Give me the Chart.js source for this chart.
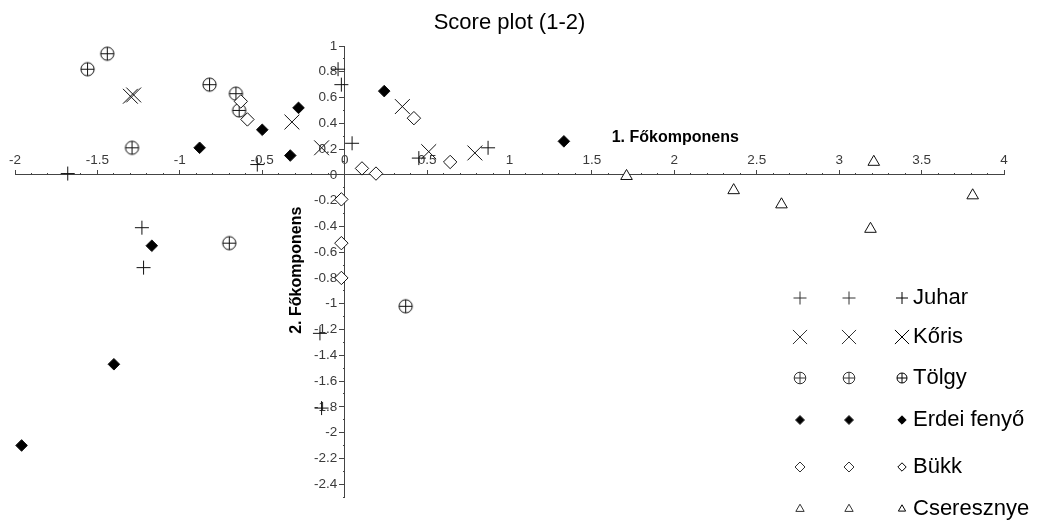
<!DOCTYPE html>
<html lang="hu">
<head>
  <meta charset="UTF-8">
  <title>Score plot (1-2)</title>
  <script src="https://cdn.jsdelivr.net/npm/chart.js"></script>
  <style>
    body { margin: 0; background: #fff; }
    #wrap { width: 1037px; height: 522px; }
  </style>
</head>
<body>
  <div id="wrap"><canvas id="scorePlot" width="1037" height="522"></canvas></div>

  <script>
    // axis ticks
    const xTicks = [-2, -1.5, -1, -0.5, 0, 0.5, 1, 1.5, 2, 2.5, 3, 3.5, 4];
    const yTicks = [-2.4, -2.2, -2, -1.8, -1.6, -1.4, -1.2, -1, -0.8, -0.6, -0.4, -0.2, 0, 0.2, 0.4, 0.6, 0.8, 1];

    const xTitle = '1. Főkomponens';
    const yTitle = '2. Főkomponens';

    // scores [1. component, 2. component]
    const juhar = [[-1.68, 0.01], [-0.53, 0.08], [-0.04, 0.82], [-0.02, 0.70], [0.045, 0.245], [0.45, 0.13],
      [0.87, 0.21], [-1.23, -0.41], [-1.22, -0.72], [-0.15, -1.23], [-0.14, -1.81]];
    const koris = [[-1.30, 0.61], [-1.28, 0.62], [-0.32, 0.41], [-0.14, 0.21], [0.35, 0.53], [0.51, 0.18], [0.79, 0.17]];
    const tolgy = [[-1.56, 0.82], [-1.44, 0.94], [-0.82, 0.70], [-0.66, 0.63], [-0.64, 0.50], [-1.29, 0.21],
      [-0.70, -0.53], [0.37, -1.02]];
    const erdeiFenyo = [[-0.88, 0.21], [-0.50, 0.35], [-0.33, 0.15], [-0.28, 0.52], [0.24, 0.65], [1.33, 0.26],
      [-1.17, -0.55], [-1.40, -1.47], [-1.96, -2.10]];
    const bukk = [[-0.63, 0.57], [-0.59, 0.43], [-0.02, -0.19], [0.42, 0.44], [0.105, 0.05], [0.19, 0.01],
      [0.64, 0.10], [-0.02, -0.53], [-0.02, -0.80]];
    const cseresznye = [[1.71, -0.01], [2.36, -0.12], [2.65, -0.23], [3.21, 0.10], [3.19, -0.42], [3.81, -0.16]];

    const seriesNames = ['Juhar', 'Kőris', 'Tölgy', 'Erdei fenyő', 'Bükk', 'Cseresznye'];

    const FONT = '"Liberation Sans", Arial, sans-serif';
    const axisColor = '#444';
    const ink = '#111';

    // circle with a plus inside, Chart.js has no such point style
    function circlePlus(r) {
      const s = Math.ceil(r * 2 + 3);
      const c = document.createElement('canvas');
      c.width = c.height = s;
      const g = c.getContext('2d');
      const m = s / 2;
      g.strokeStyle = ink;
      g.fillStyle = '#fff';
      g.lineWidth = 1;
      g.beginPath();
      g.arc(m, m, r, 0, Math.PI * 2);
      g.fill();
      g.stroke();
      g.beginPath();
      g.moveTo(m - r, m); g.lineTo(m + r, m);
      g.moveTo(m, m - r); g.lineTo(m, m + r);
      g.stroke();
      return c;
    }

    const toPoints = arr => arr.map(p => ({ x: p[0], y: p[1] }));

    // marker look per series (plot size + legend sizes)
    const markers = [
      { style: 'cross', r: 7, fill: '#fff', legend: 'cross', lr: [6.5, 6.5, 6] },
      { style: 'crossRot', r: 10.5, fill: '#fff', legend: 'crossRot', lr: [10, 10, 10] },
      { style: circlePlus(6.6), r: 7, fill: '#fff', legend: 'circlePlus', lr: [5.8, 5.8, 5] },
      { style: 'rectRot', r: 5.8, fill: '#000', legend: 'rectRot', lr: [4.5, 4.5, 4.2] },
      { style: 'rectRot', r: 6.7, fill: '#fff', legend: 'rectRot', lr: [5, 5, 4.2] },
      { style: 'triangle', r: 6.7, fill: '#fff', legend: 'triangle', lr: [4.8, 4.8, 4.2] }
    ];

    const seriesData = [juhar, koris, tolgy, erdeiFenyo, bukk, cseresznye];

    const datasets = seriesData.map((d, i) => ({
      label: seriesNames[i],
      data: toPoints(d),
      pointStyle: markers[i].style,
      pointRadius: markers[i].r,
      pointHoverRadius: markers[i].r,
      pointBorderWidth: 1,
      pointBorderColor: ink,
      pointBackgroundColor: markers[i].fill,
      showLine: false,
      order: i === 2 ? 1 : 0
    }));

    // axis titles placed at data positions next to the axes
    const axisTitles = {
      id: 'axisTitles',
      afterDraw(chart) {
        const { ctx, scales: { x, y } } = chart;
        ctx.save();
        ctx.font = 'bold 16px ' + FONT;
        ctx.fillStyle = '#000';
        ctx.textBaseline = 'middle';
        ctx.textAlign = 'left';
        ctx.fillText(xTitle, x.getPixelForValue(1.62), y.getPixelForValue(0.29));
        ctx.translate(x.getPixelForValue(-0.29), y.getPixelForValue(-0.74));
        ctx.rotate(-Math.PI / 2);
        ctx.textAlign = 'center';
        ctx.fillText(yTitle, 0, 0);
        ctx.restore();
      }
    };

    // legend: two symbols, then a small symbol glued to the name
    const legendRows = [298, 337, 378, 420, 467, 509];
    const legendCols = [800, 849, 902];
    const legendTextX = 913;

    const symbolLegend = {
      id: 'symbolLegend',
      afterDraw(chart) {
        const ctx = chart.ctx;
        const drawPoint = Chart.helpers.drawPoint;
        ctx.save();
        chart.data.datasets.forEach((ds, i) => {
          const m = markers[i];
          const y = legendRows[i];
          legendCols.forEach((cx, k) => {
            const r = m.lr[k];
            ctx.strokeStyle = k === 2 ? '#000' : '#333';
            ctx.fillStyle = m.fill;
            ctx.lineWidth = 1;
            if (m.legend === 'circlePlus') {
              drawPoint(ctx, { pointStyle: 'circle', radius: r, borderWidth: 1 }, cx, y);
              drawPoint(ctx, { pointStyle: 'cross', radius: r, borderWidth: 1 }, cx, y);
            } else {
              drawPoint(ctx, { pointStyle: m.legend, radius: r, borderWidth: 1 }, cx, y);
            }
          });
          ctx.fillStyle = '#000';
          ctx.font = '22px ' + FONT;
          ctx.textAlign = 'left';
          ctx.textBaseline = 'middle';
          ctx.fillText(ds.label, legendTextX, y);
        });
        ctx.restore();
      }
    };

    const tickFont = { family: FONT, size: 13.5 };

    new Chart(document.getElementById('scorePlot'), {
      type: 'scatter',
      data: { datasets: datasets },
      options: {
        responsive: false,
        animation: false,
        events: [],
        devicePixelRatio: 1,
        layout: { padding: { left: 15, right: 33, top: 0, bottom: 25 } },
        plugins: {
          legend: { display: false },
          tooltip: { enabled: false },
          title: {
            display: true,
            text: 'Score plot (1-2)',
            color: '#000',
            font: { family: FONT, size: 22, weight: 'normal' },
            padding: { top: 10, bottom: 9.6 }
          }
        },
        scales: {
          x: {
            type: 'linear',
            min: -2,
            max: 4,
            position: { y: 0 },
            border: { color: axisColor, width: 1 },
            grid: { drawOnChartArea: false, tickLength: -5, color: axisColor },
            afterBuildTicks: s => { s.ticks = xTicks.map(v => ({ value: v })); },
            ticks: {
              autoSkip: false, maxRotation: 0, padding: -17.5,
              font: tickFont, color: '#3a3a3a', callback: v => String(v)
            }
          },
          y: {
            type: 'linear',
            min: -2.5,
            max: 1,
            position: { x: 0 },
            border: { color: axisColor, width: 1 },
            grid: { drawOnChartArea: false, tickLength: 5, color: axisColor },
            afterBuildTicks: s => { s.ticks = yTicks.map(v => ({ value: v })); },
            ticks: {
              autoSkip: false,
              font: tickFont, color: '#3a3a3a',
              // labels of a value-positioned axis sit on the line, keep a gap
              callback: v => String(v) + '  '
            }
          },
          // minor tick marks every 0.1
          xm: {
            axis: 'x', type: 'linear', min: -2, max: 4,
            position: { y: 0 },
            border: { display: false },
            grid: { drawOnChartArea: false, tickLength: -2, color: axisColor },
            ticks: { display: false, stepSize: 0.1, autoSkip: false }
          },
          ym: {
            axis: 'y', type: 'linear', min: -2.5, max: 1,
            position: { x: 0 },
            border: { display: false },
            grid: { drawOnChartArea: false, tickLength: 2, color: axisColor },
            ticks: { display: false, stepSize: 0.1, autoSkip: false }
          }
        }
      },
      plugins: [axisTitles, symbolLegend]
    });
  </script>
</body>
</html>
